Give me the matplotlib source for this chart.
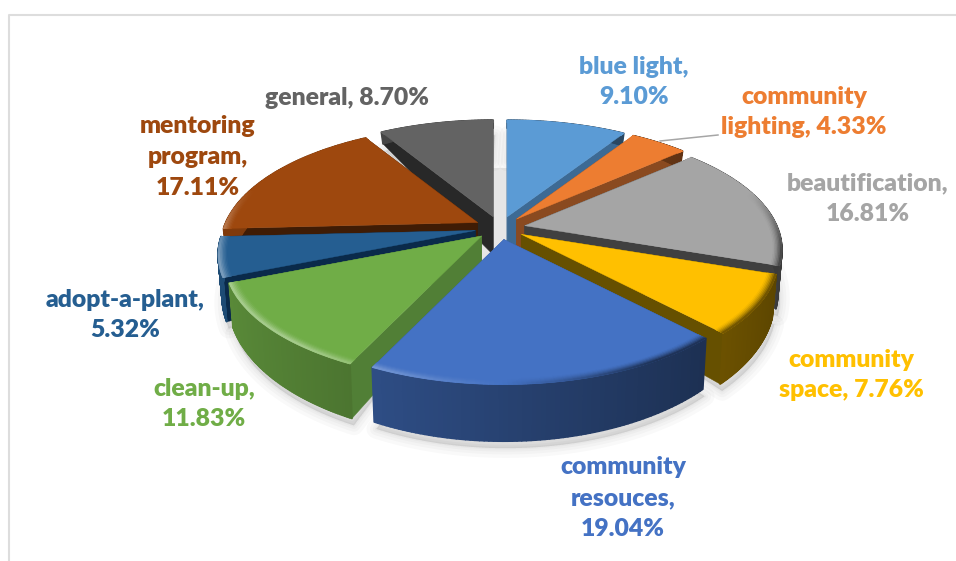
import numpy as np
import matplotlib
matplotlib.use("Agg")
import matplotlib.pyplot as plt
from matplotlib.collections import PolyCollection
from matplotlib.colors import to_rgb

# chart data
categories = ["blue light", "community lighting", "beautification", "community space",
              "community resouces", "clean-up", "adopt-a-plant", "mentoring program", "general"]
values = [9.10, 4.33, 16.81, 7.76, 19.04, 11.83, 5.32, 17.11, 8.70]
labels = ["blue light,\n9.10%", "community\nlighting, 4.33%", "beautification,\n16.81%",
          "community\nspace, 7.76%", "community\nresouces,\n19.04%", "clean-up,\n11.83%",
          "adopt-a-plant,\n5.32%", "mentoring\nprogram,\n17.11%", "general, 8.70%"]

colors = ["#5B9BD5", "#ED7D31", "#A5A5A5", "#FFC000", "#4472C4",
          "#70AD47", "#255E91", "#9E480E", "#636363"]
cut_colors = ["#3D6A94", "#8A4A20", "#404040", "#665000", "#2F5597",
              "#517F36", "#0A2A4A", "#3F1C05", "#282828"]
label_pos = [(634, 82), (804, 112), (868, 199), (851, 375), (623, 498),
             (204, 404), (125, 315), (198, 157), (347, 98)]

# projection of the pie
CX, CY = 500, 228
RX, RY = 252, 116
PERSP = 0.2
EXPLODE = 0.1


def project(t, r=1.0):
    den = 1 + PERSP * r * np.cos(t)
    return RX * r * np.sin(t) / den, -RY * r * np.cos(t) / den


def depth(t, r=1.0):
    v = r * np.cos(t) / (1 + PERSP * r * np.cos(t))
    return 38 - np.where(v > 0, 36, 15) * v


def top_pts(t, mid, r=1.0):
    x, y = project(t, r)
    return CX + EXPLODE * RX * np.sin(mid) + x, CY - EXPLODE * RY * np.cos(mid) + y


def bottom_pts(t, mid, r=1.0):
    x, y = project(t, r)
    return (CX + EXPLODE * RX * np.sin(mid) + x * 0.985,
            CY - EXPLODE * RY * np.cos(mid) + y + depth(t, r))


def mix(c1, c2, w):
    return tuple((1 - w) * a + w * b for a, b in zip(c1, c2))


fig = plt.figure(figsize=(9.56, 5.61), dpi=100)
ax = fig.add_axes([0, 0, 1, 1])
ax.set_xlim(0, 956)
ax.set_ylim(561, 0)
ax.axis("off")

# chart frame
ax.plot([9.5, 9.5, 956], [561, 14.5, 14.5], color="#DDDDDD", lw=1.5, zorder=0)

edges = np.cumsum([0] + values) / np.sum(values) * 2 * np.pi
slices = []
for i in range(len(values)):
    t = np.linspace(edges[i], edges[i + 1], 80)
    slices.append((i, t, (edges[i] + edges[i + 1]) / 2))

# grey shadow in the middle and under the slices
tt = np.linspace(0, 2 * np.pi, 120)
sx, sy = project(tt, 0.6)
ax.fill(CX + sx, CY + sy + 2, color="#E6E6E6", lw=0, zorder=1)
for i, t, mid in slices:
    bx, by = bottom_pts(t, mid)
    ix, iy = bottom_pts(t[::-1], mid, 0.7)
    for lw in (14, 9, 5, 2):
        ax.fill(np.r_[bx + 2, ix], np.r_[by + 7, iy], facecolor="k", edgecolor="k",
                alpha=0.022, lw=lw, joinstyle="round", zorder=1)

# far slices first
z = 2
for i, t, mid in sorted(slices, key=lambda s: -np.cos(s[2])):
    face = to_rgb(colors[i])
    tipx, tipy = top_pts(0.0, mid, 0.0)
    tipd = float(depth(0.0, 0.0))

    # cut faces
    for e in (t[0], t[-1]):
        ex, ey = top_pts(e, mid)
        fx, fy = bottom_pts(e, mid)
        ax.fill([tipx, ex, fx, tipx], [tipy, ey, fy, tipy + tipd],
                color=cut_colors[i], lw=0.3, zorder=z)

    # outer wall, shaded along the arc
    tx, ty = top_pts(t, mid)
    bx, by = bottom_pts(t, mid)
    polys, cols = [], []
    for j in range(len(t) - 1):
        polys.append([(tx[j], ty[j]), (tx[j + 1], ty[j + 1]),
                      (bx[j + 1], by[j + 1]), (bx[j], by[j])])
        m = 0.58 - 0.23 * np.sin(t[j])
        cols.append(tuple(c * m for c in face))
    ax.add_collection(PolyCollection(polys, facecolors=cols, edgecolors=cols,
                                     linewidths=1.2, zorder=z + 0.1))

    # top face
    ax.fill(np.r_[tipx, tx], np.r_[tipy, ty], color=face, lw=0.3, zorder=z + 0.2)

    # bevel along the rim, as thin bands from the edge inwards
    radii = np.linspace(0.968, 1.0, 7)
    polys, cols = [], []
    for k in range(len(radii) - 1):
        ax_, ay_ = top_pts(t, mid, radii[k])
        bx_, by_ = top_pts(t, mid, radii[k + 1])
        a = (k + 1) / (len(radii) - 1)
        for j in range(len(t) - 1):
            X, Y = np.sin(t[j]), np.cos(t[j])
            vis = np.clip((0.3 - Y) / 0.5, 0, 1) * a ** 1.5
            if X < 0:
                c = mix(face, (1, 1, 1), 0.38 * min(-X * 1.6, 1) * vis)
            else:
                c = mix(face, (0, 0, 0), 0.55 * min(X * 2.0, 1) * vis)
            polys.append([(ax_[j], ay_[j]), (ax_[j + 1], ay_[j + 1]),
                          (bx_[j + 1], by_[j + 1]), (bx_[j], by_[j])])
            cols.append(c)
    ax.add_collection(PolyCollection(polys, facecolors=cols, edgecolors=cols,
                                     linewidths=0.6, zorder=z + 0.3))
    z += 1

# leader line for community lighting
ax.plot([660, 718], [141, 135], color="#A6A6A6", lw=1.1, zorder=z)

for lab, pos, c in zip(labels, label_pos, colors):
    ax.text(pos[0], pos[1], lab, color=c, fontsize=17.8, family="Lato", fontweight="heavy",
            ha="center", va="center", linespacing=1.48, zorder=z + 1)

fig.savefig("out.png", dpi=100, facecolor="white")
